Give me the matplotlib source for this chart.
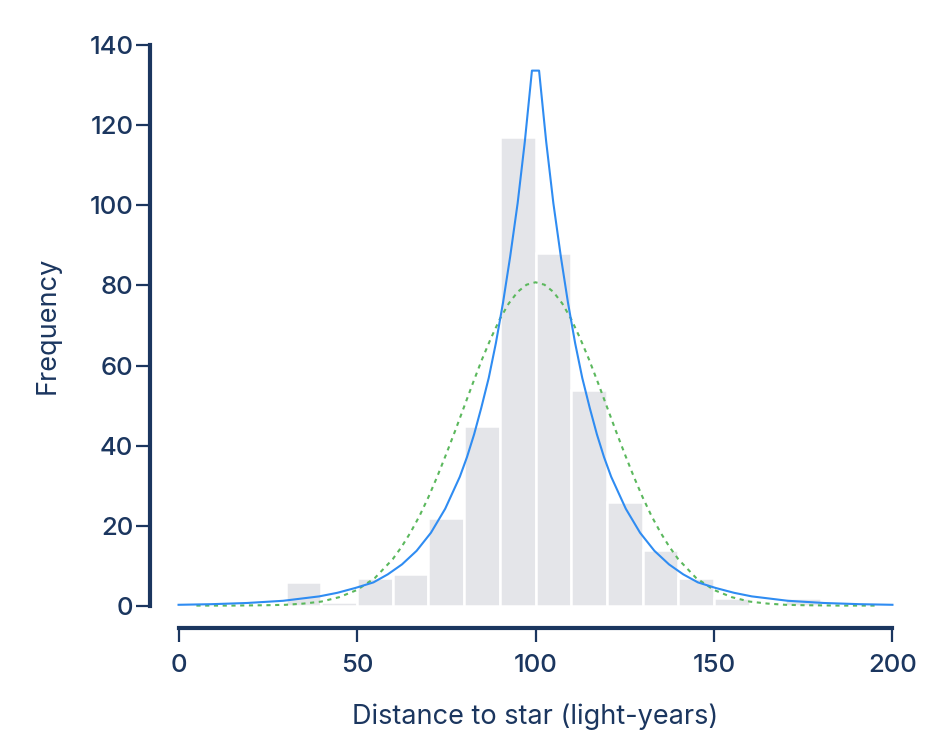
import matplotlib
matplotlib.use("Agg")
import matplotlib.pyplot as plt

# histogram: bin edges (left side) and counts
bin_left = [30, 40, 50, 60, 70, 80, 90, 100, 110, 120, 130, 140, 150, 160, 170]
bin_counts = [6, 1, 7, 8, 22, 45, 117, 88, 54, 26, 14, 7, 2, 0, 2]
bin_width = 10

# blue solid curve (sharp peak)
blue_x = [0, 9.1, 19.2, 29.3, 39.4, 44.5, 49.5, 54.6, 58.6, 62.6, 66.7, 70.7,
          74.7, 78.8, 80.8, 82.8, 84.8, 86.9, 88.9, 90.9, 92.9, 95.0, 97.0, 99.0,
          101.0, 103.0, 105.0, 107.1, 109.1, 111.1, 113.1, 115.2, 117.2, 119.2,
          121.2, 125.3, 129.3, 133.3, 137.4, 141.4, 145.5, 150.5, 155.6, 160.6,
          170.7, 180.8, 190.9, 200]
blue_y = [0.2, 0.35, 0.65, 1.2, 2.3, 3.2, 4.4, 5.8, 7.8, 10.3, 13.7, 18.2,
          24.2, 32.2, 37.1, 42.8, 49.4, 56.9, 65.6, 75.7, 87.2, 100.6, 115.9, 133.7,
          133.7, 115.9, 100.6, 87.2, 75.7, 65.6, 56.9, 49.4, 42.8, 37.1,
          32.2, 24.2, 18.2, 13.7, 10.3, 7.8, 5.8, 4.4, 3.2, 2.3,
          1.2, 0.65, 0.35, 0.2]

# green dotted curve (normal-like)
green_x = [5, 10, 15, 20, 25, 30, 35, 40, 45, 50, 55, 60, 62.5, 65, 67.5, 70,
           72.5, 75, 77.5, 80, 82.5, 85, 87.5, 90, 92.5, 95, 97.5, 100,
           102.5, 105, 107.5, 110, 112.5, 115, 117.5, 120, 122.5, 125, 127.5,
           130, 132.5, 135, 137.5, 140, 145, 150, 155, 160, 165, 170, 175,
           180, 185, 190, 195]
green_y = [0.0, 0.0, 0.0, 0.05, 0.1, 0.2, 0.5, 1.0, 2.1, 3.9, 6.9, 11.6, 14.7,
           18.3, 22.4, 27.1, 32.3, 37.9, 43.7, 49.7, 55.7, 61.5, 66.8, 71.6,
           75.5, 78.4, 80.2, 80.8, 80.2, 78.4, 75.5, 71.6, 66.8, 61.5, 55.7,
           49.7, 43.7, 37.9, 32.3, 27.1, 22.4, 18.3, 14.7, 11.6, 6.9, 3.9,
           2.1, 1.0, 0.5, 0.2, 0.1, 0.05, 0.0, 0.0, 0.0]

x_ticks = [0, 50, 100, 150, 200]
y_ticks = [0, 20, 40, 60, 80, 100, 120, 140]

navy = "#1b365f"
plt.rcParams["font.family"] = ["Inter", "DejaVu Sans"]
plt.rcParams["font.weight"] = "medium"

fig = plt.figure(figsize=(9.43, 7.35), dpi=100)
ax = fig.add_axes([150 / 943, 107 / 735, 771 / 943, 605 / 735])

ax.bar(bin_left, bin_counts, width=bin_width, align="edge",
       color="#e4e5e9", edgecolor="white", linewidth=1.8, zorder=1)
ax.plot(green_x, green_y, color="#5bb85d", lw=1.5, ls=(0, (2, 2.2)), zorder=2)
ax.plot(blue_x, blue_y, color="#2f8cf2", lw=1.5, zorder=3)

ax.set_xlim(-8, 208)
ax.set_ylim(-5.6, 145.6)

for side in ("top", "right"):
    ax.spines[side].set_visible(False)
ax.spines["left"].set_bounds(0, 140)
ax.spines["bottom"].set_bounds(0, 200)
for side in ("left", "bottom"):
    ax.spines[side].set_color(navy)
    ax.spines[side].set_linewidth(3)

ax.set_xticks(x_ticks)
ax.set_yticks(y_ticks)
ax.tick_params(axis="both", colors=navy, labelsize=18.5, length=10, width=1.6,
               direction="out")
ax.tick_params(axis="y", pad=2)
ax.tick_params(axis="x", pad=9)

ax.set_xlabel("Distance to star (light-years)", fontsize=19.5, color=navy,
              labelpad=19)
ax.set_ylabel("Frequency", fontsize=19.5, color=navy, labelpad=21)

fig.savefig("out.png", dpi=100)
